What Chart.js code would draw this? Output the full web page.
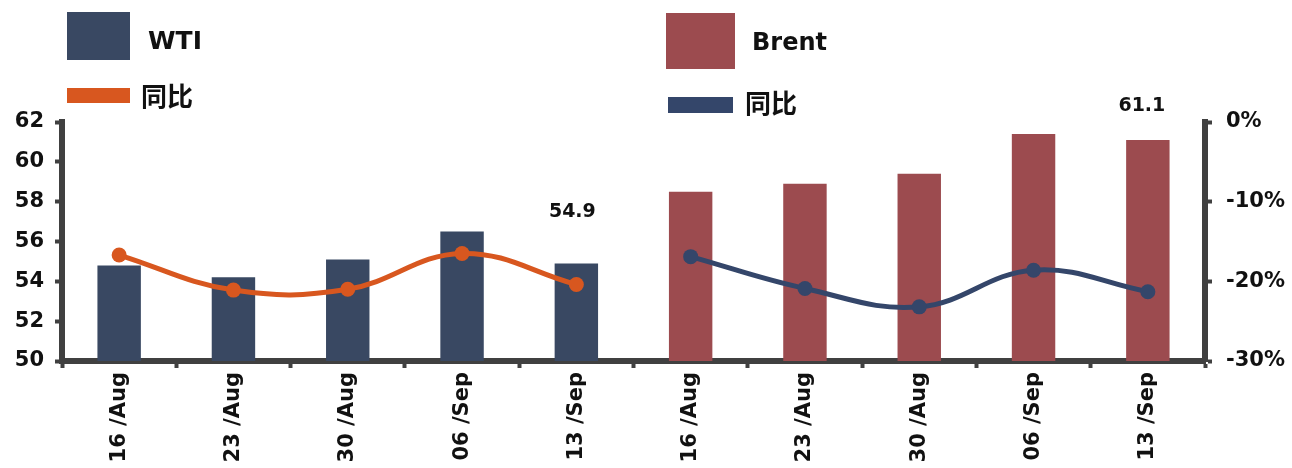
<!DOCTYPE html>
<html>
<head>
<meta charset="utf-8">
<script src="https://cdn.jsdelivr.net/npm/chart.js@4.4.1/dist/chart.umd.min.js"></script>
<style>
  html, body { margin: 0; padding: 0; background: #ffffff; }
  #wrap { width: 1292px; height: 468px; position: relative; }
</style>
</head>
<body>
<div id="wrap"><canvas id="chart" width="1292" height="468"></canvas></div>
<script>
// Weekly crude prices (USD/bbl) and year-on-year change (%)
const categories = ['16 /Aug', '23 /Aug', '30 /Aug', '06 /Sep', '13 /Sep',
                    '16 /Aug', '23 /Aug', '30 /Aug', '06 /Sep', '13 /Sep'];
const wtiPrice   = [54.8, 54.2, 55.1, 56.5, 54.9, null, null, null, null, null];
const brentPrice = [null, null, null, null, null, 58.5, 58.9, 59.4, 61.4, 61.1];
const wtiYoY     = [-16.7, -21.1, -21.0, -16.5, -20.4, null, null, null, null, null];
const brentYoY   = [null, null, null, null, null, -16.9, -20.9, -23.2, -18.6, -21.3];
const priceTicks = [50, 52, 54, 56, 58, 60, 62];
const yoyTicks   = [-30, -20, -10, 0];

const WTI_BAR = '#394862';
const BRENT_BAR = '#9c4b4f';
const WTI_LINE = '#d8571f';
const BRENT_LINE = '#34466a';
const AXIS = '#404040';
const TEXT = '#111111';
const LATIN = '"DejaVu Sans", Verdana, sans-serif';
const CJK = '"Noto Sans CJK SC", "DejaVu Sans", sans-serif';

// Legend blocks and value labels drawn straight onto the canvas
const annotate = {
  id: 'annotate',
  afterDraw(chart, args, opts) {
    const ctx = chart.ctx;
    ctx.save();
    opts.legend.forEach(item => {
      ctx.fillStyle = item.color;
      ctx.fillRect(item.x, item.y, item.w, item.h);
      ctx.fillStyle = TEXT;
      ctx.font = item.font;
      ctx.textAlign = 'left';
      ctx.textBaseline = 'middle';
      ctx.fillText(item.text, item.tx, item.ty);
    });
    opts.values.forEach(v => {
      const meta = chart.getDatasetMeta(v.dataset);
      const el = meta.data[v.index];
      const val = chart.data.datasets[v.dataset].data[v.index];
      ctx.fillStyle = TEXT;
      ctx.font = 'bold 19px ' + LATIN;
      ctx.textAlign = 'center';
      ctx.textBaseline = 'middle';
      ctx.fillText(val.toFixed(1), el.x + v.dx, el.y - v.lift);
    });
    ctx.restore();
  }
};

const tickFont = { family: LATIN, size: 21, weight: 'bold' };

new Chart(document.getElementById('chart'), {
  data: {
    labels: categories,
    datasets: [
      { type: 'line', label: '同比 WTI', data: wtiYoY, yAxisID: 'y2', order: 0,
        borderColor: WTI_LINE, backgroundColor: WTI_LINE, borderWidth: 5,
        pointRadius: 7.5, pointBackgroundColor: WTI_LINE, pointBorderWidth: 0,
        tension: 0.4, spanGaps: false },
      { type: 'line', label: '同比 Brent', data: brentYoY, yAxisID: 'y2', order: 0,
        borderColor: BRENT_LINE, backgroundColor: BRENT_LINE, borderWidth: 5,
        pointRadius: 7.5, pointBackgroundColor: BRENT_LINE, pointBorderWidth: 0,
        tension: 0.4, spanGaps: false },
      { type: 'bar', label: 'WTI', data: wtiPrice, yAxisID: 'y', order: 1,
        backgroundColor: WTI_BAR, grouped: false,
        categoryPercentage: 1, barPercentage: 0.38 },
      { type: 'bar', label: 'Brent', data: brentPrice, yAxisID: 'y', order: 1,
        backgroundColor: BRENT_BAR, grouped: false,
        categoryPercentage: 1, barPercentage: 0.38 }
    ]
  },
  options: {
    responsive: false,
    animation: false,
    devicePixelRatio: 1,
    layout: { padding: { top: 122, left: 0, right: 0, bottom: 0 } },
    plugins: {
      legend: { display: false },
      tooltip: { enabled: false },
      annotate: {
        legend: [
          { color: WTI_BAR, x: 67, y: 12, w: 63, h: 48, text: 'WTI', tx: 148, ty: 42,
            font: 'bold 25px ' + LATIN },
          { color: WTI_LINE, x: 67, y: 88, w: 63, h: 15, text: '同比', tx: 141, ty: 96,
            font: 'bold 26px ' + CJK },
          { color: BRENT_BAR, x: 666, y: 13, w: 69, h: 56, text: 'Brent', tx: 752, ty: 44,
            font: 'bold 24px ' + LATIN },
          { color: BRENT_LINE, x: 668, y: 97, w: 65, h: 16, text: '同比', tx: 745, ty: 103,
            font: 'bold 26px ' + CJK }
        ],
        values: [
          { dataset: 2, index: 4, lift: 51, dx: -4 },
          { dataset: 3, index: 9, lift: 34, dx: -6 }
        ]
      }
    },
    scales: {
      x: {
        type: 'category',
        offset: true,
        grid: { display: true, drawOnChartArea: false, offset: true,
                tickLength: 7, tickWidth: 4, tickColor: AXIS },
        border: { display: true, color: AXIS, width: 6 },
        ticks: { autoSkip: false, minRotation: 90, maxRotation: 90, padding: 4,
                 color: TEXT, font: { family: LATIN, size: 21, weight: 'bold' } },
        afterFit: s => { s.height = 107; }
      },
      y: {
        position: 'left',
        min: priceTicks[0], max: priceTicks[priceTicks.length - 1],
        afterBuildTicks: s => { s.ticks = priceTicks.map(v => ({ value: v })); },
        grid: { display: true, drawOnChartArea: false,
                tickLength: 7, tickWidth: 4, tickColor: AXIS },
        border: { display: true, color: AXIS, width: 6 },
        ticks: { padding: 11, color: TEXT, font: tickFont },
        afterFit: s => { s.width = 62; }
      },
      y2: {
        position: 'right',
        min: yoyTicks[0], max: yoyTicks[yoyTicks.length - 1],
        afterBuildTicks: s => { s.ticks = yoyTicks.map(v => ({ value: v })); },
        grid: { display: true, drawOnChartArea: false,
                tickLength: 7, tickWidth: 4, tickColor: AXIS },
        border: { display: true, color: AXIS, width: 6 },
        ticks: { padding: 14, color: TEXT, font: tickFont, callback: v => v + '%' },
        afterFit: s => { s.width = 87; }
      }
    }
  },
  plugins: [annotate]
});
</script>
</body>
</html>
